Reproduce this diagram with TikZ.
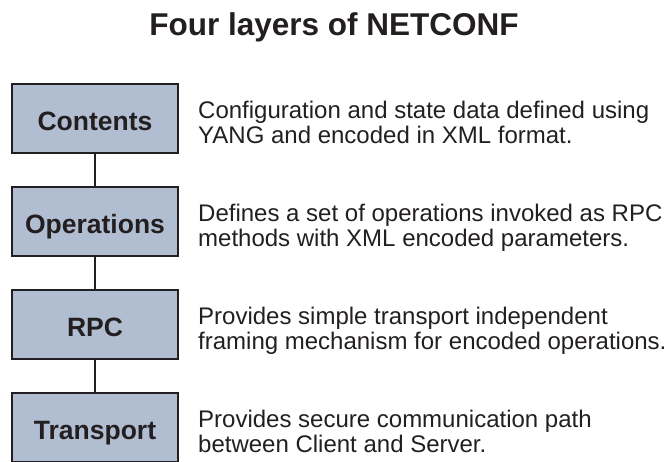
\documentclass[tikz,border=0pt]{standalone}
\usepackage{fontspec}
\setmainfont{Liberation Sans}
\usepackage{tikz}
\usetikzlibrary{positioning}

\definecolor{layerfill}{RGB}{177,189,209}
\definecolor{inkgray}{RGB}{35,31,32}

\begin{document}
\begin{tikzpicture}[x=1pt, y=-1pt, node distance=34pt and 20pt,
		layer/.style={draw=inkgray, line width=1.5pt, fill=layerfill,
			minimum width=166pt, minimum height=69pt, outer sep=0pt, inner sep=0pt,
			text height=23pt, text depth=0pt,
			text=inkgray, font=\fontsize{26.5}{30}\selectfont\bfseries},
		info/.style={right=20pt of #1, anchor=base west, yshift=-25.3pt, inner sep=0pt, align=left,
			text=inkgray, font=\fontsize{24}{25.3}\selectfont},
		link/.style={draw=inkgray, line width=1.5pt}]
			\useasboundingbox (0,0) rectangle (666,461);
			
			% --- Title ---
			\node[anchor=base, text=inkgray, font=\fontsize{31.5}{36}\selectfont\bfseries]
				(title) at (334,35) {Four layers of NETCONF};
			
			% --- Layers ---
			\node[layer] (contents) at (95,118.5) {Contents};
			\node[layer, below=of contents] (operations) {Operations};
			\node[layer, below=of operations] (rpc) {RPC};
			\node[layer, below=of rpc] (transport) {Transport};
			
			\draw[link] (contents) -- (operations);
			\draw[link] (operations) -- (rpc);
			\draw[link] (rpc) -- (transport);
			
			% --- Descriptions ---
			\node[info=contents] (contentsinfo) {Configuration and state data defined using\\YANG and encoded in XML format.};
			\node[info=operations] (operationsinfo) {Defines a set of operations invoked as RPC\\methods with XML encoded parameters.};
			\node[info=rpc] (rpcinfo) {Provides simple transport independent\\framing mechanism for encoded operations.};
			\node[info=transport] (transportinfo) {Provides secure communication path\\between Client and Server.};
		\end{tikzpicture}
\end{document}
